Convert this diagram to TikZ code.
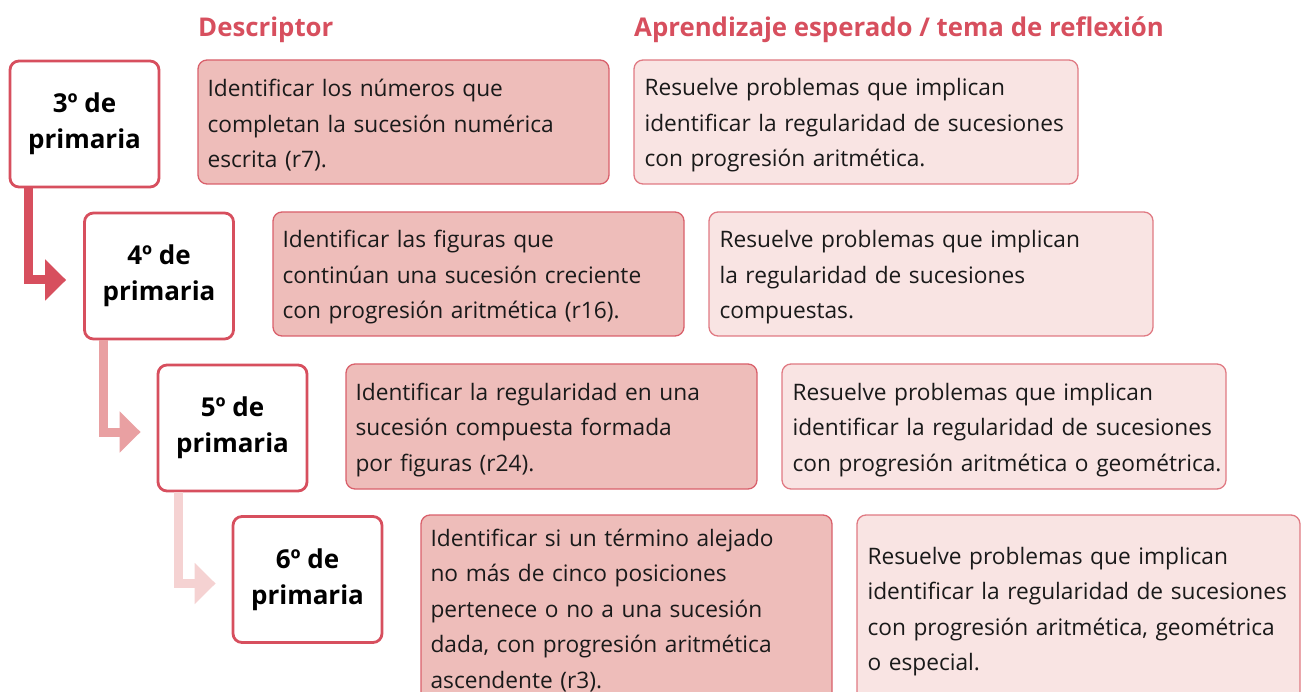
\documentclass[tikz,border=0pt]{standalone}
\usepackage{fontspec}
\setmainfont{Open Sans}
\usetikzlibrary{arrows.meta}
\definecolor{redA}{HTML}{D74F5E}
\definecolor{redB}{HTML}{E9A0A2}
\definecolor{redC}{HTML}{F5D2D2}
\definecolor{descfill}{HTML}{EEBDBA}
\definecolor{descline}{HTML}{D9606B}
\definecolor{aprfill}{HTML}{F9E4E3}
\definecolor{aprline}{HTML}{E07A83}
\definecolor{txt}{HTML}{1A1A1A}
\newcommand{\tline}[1]{\mbox{#1}}
\begin{document}
\begin{tikzpicture}[x=1pt,y=-1pt,
  lvl/.style={draw=redA, line width=2.8pt, fill=white, rounded corners=9pt,
    minimum width=149pt, minimum height=126pt, align=center, inner sep=0pt,
    font=\fontsize{26}{36}\selectfont\bfseries, text=black},
  desc/.style={draw=descline, line width=1.3pt, fill=descfill, rounded corners=9pt,
    minimum width=411pt, inner sep=0pt},
  apr/.style={draw=aprline, line width=1.3pt, fill=aprfill, rounded corners=9pt,
    inner sep=0pt},
  btext/.style={anchor=west, text width=400pt, inner ysep=0pt, align=left,
    font=\fontsize{22.7}{35.5}\selectfont, text=txt},
  head/.style={anchor=west, inner sep=0pt, text=redA, font=\fontsize{25.8}{30}\selectfont\bfseries},
  flow/.style={line width=9pt, line join=miter, -{Triangle[length=21pt,width=40pt]}}
]
\useasboundingbox (0,0) rectangle (1301,692);

\node[head] (h1) at (198,30) {Descriptor};
\node[head] (h2) at (634,30) {Aprendizaje esperado / tema de reflexión};

% levels
\node[lvl] (L3) at (84.5,124) {3º de\\primaria};
\node[lvl] (L4) at (159,276) {4º de\\primaria};
\node[lvl] (L5) at (232.5,428) {5º de\\primaria};
\node[lvl] (L6) at (307.5,579.5) {6º de\\primaria};

% descriptor boxes
\node[desc, minimum height=124pt] (D3) at (403.5,122) {};
\node[desc, minimum height=124pt] (D4) at (478.5,274) {};
\node[desc, minimum height=125pt] (D5) at (551.5,426.5) {};
\node[desc, minimum height=186pt] (D6) at (626.5,608) {};
% aprendizaje boxes
\node[apr, minimum width=444pt, minimum height=124pt] (A3) at (856,122) {};
\node[apr, minimum width=444pt, minimum height=124pt] (A4) at (931,274) {};
\node[apr, minimum width=444pt, minimum height=125pt] (A5) at (1004,426.5) {};
\node[apr, minimum width=443pt, minimum height=186pt] (A6) at (1078.5,608) {};

% texts
\node[btext, inner xsep=10pt] (D3t) at ([yshift=-3.5pt]D3.west) {\tline{Identificar los números que}\\\tline{completan la sucesión numérica}\\\tline{escrita (r7).}};
\node[btext, inner xsep=10pt] (D4t) at ([yshift=-3.5pt]D4.west) {\tline{Identificar las figuras que}\\\tline{continúan una sucesión creciente}\\\tline{con progresión aritmética (r16).}};
\node[btext, inner xsep=10pt] (D5t) at ([yshift=-3.5pt]D5.west) {\tline{Identificar la regularidad en una}\\\tline{sucesión compuesta formada}\\\tline{por figuras (r24).}};
\node[btext, inner xsep=10pt] (D6t) at ([yshift=-2.5pt]D6.west) {\tline{Identificar si un término alejado}\\\tline{no más de cinco posiciones}\\\tline{pertenece o no a una sucesión}\\\tline{dada, con progresión aritmética}\\\tline{ascendente (r3).}};

\node[btext, inner xsep=11pt] (A3t) at ([yshift=-3.5pt]A3.west) {\tline{Resuelve problemas que implican}\\\tline{identificar la regularidad de sucesiones}\\\tline{con progresión aritmética.}};
\node[btext, inner xsep=11pt] (A4t) at ([yshift=-3.5pt]A4.west) {\tline{Resuelve problemas que implican}\\\tline{la regularidad de sucesiones}\\\tline{compuestas.}};
\node[btext, inner xsep=11pt] (A5t) at ([yshift=-3.5pt]A5.west) {\tline{Resuelve problemas que implican}\\\tline{identificar la regularidad de sucesiones}\\\tline{con progresión aritmética o geométrica.}};
\node[btext, inner xsep=11pt] (A6t) at ([yshift=-3.5pt]A6.west) {\tline{Resuelve problemas que implican}\\\tline{identificar la regularidad de sucesiones}\\\tline{con progresión aritmética, geométrica}\\\tline{o especial.}};

% flow arrows
\draw[flow, redA] ([xshift=20pt]L3.south west) |- ([xshift=-17pt,yshift=-4pt]L4.west);
\draw[flow, redB] ([xshift=20pt]L4.south west) |- ([xshift=-16pt,yshift=-4pt]L5.west);
\draw[flow, redC] ([xshift=22pt]L5.south west) |- ([xshift=-16pt,yshift=-4pt]L6.west);
\end{tikzpicture}
\end{document}
